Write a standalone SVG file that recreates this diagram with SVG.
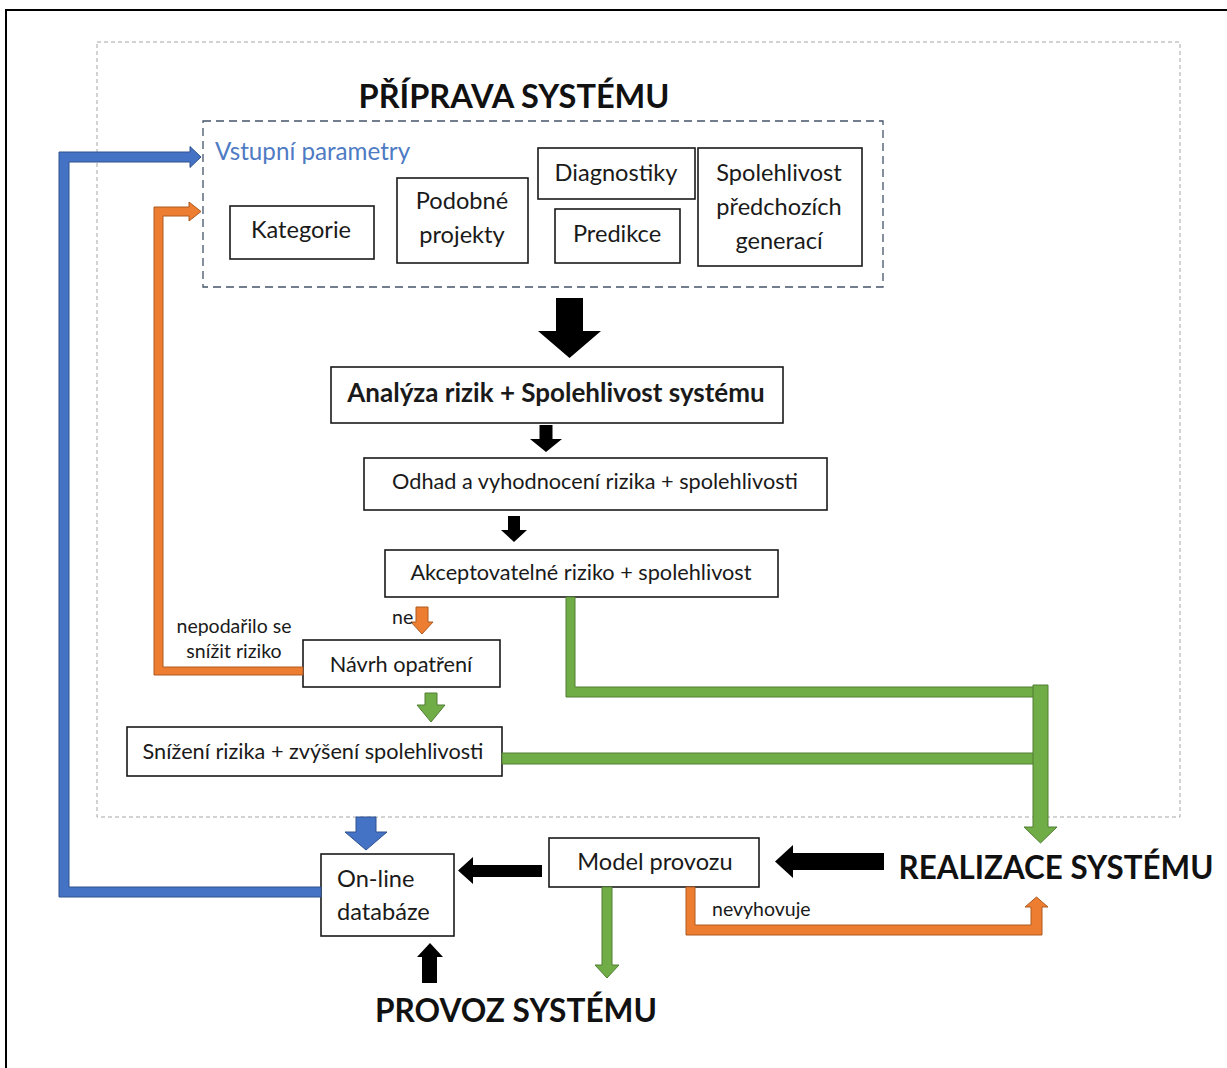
<svg xmlns="http://www.w3.org/2000/svg" width="1227" height="1068" viewBox="0 0 1227 1068">
  <style>
    .box { fill: #ffffff; stroke: #1a1a1a; stroke-width: 1.6; }
    .t { font-family: Lato, "Liberation Sans", sans-serif; fill: #1a1a1a; }
    .c { text-anchor: middle; }
    .s24 { font-size: 23.6px; }
    .s22 { font-size: 21.7px; }
    .s19 { font-size: 19.5px; }
    .head { font-family: Lato, "Liberation Sans", sans-serif; font-weight: bold; font-size: 32.5px; fill: #111111; text-anchor: middle; }
    .blue { fill: #4472c4; stroke: #2f528f; stroke-width: 1; }
    .green { fill: #70ad47; stroke: #507e32; stroke-width: 1; }
    .orange { fill: #ed7d31; stroke: #ae5a21; stroke-width: 1; }
    .black { fill: #000000; }
  </style>

  <rect width="1227" height="1068" fill="#ffffff"/>

  <!-- outer frame (right and bottom edges lie outside the canvas) -->
  <rect x="6" y="10" width="1240" height="1100" fill="none" stroke="#000000" stroke-width="2"/>

  <!-- system preparation area -->
  <rect id="preparation-area" x="97" y="42" width="1083" height="775" fill="none" stroke="#a6a6a6" stroke-width="1" stroke-dasharray="4 3"/>

  <g id="title-priprava">
    <text class="head" x="514" y="108" textLength="311" lengthAdjust="spacingAndGlyphs">PŘÍPRAVA SYSTÉMU</text>
  </g>

  <!-- input parameters group -->
  <g id="input-parameters">
    <rect x="203" y="121" width="680" height="166" fill="none" stroke="#44546a" stroke-width="1.3" stroke-dasharray="8 5"/>
    <text class="t" x="215" y="160" font-size="24.2px" style="fill:#4f7bc4">Vstupní parametry</text>
  </g>

  <g id="kategorie">
    <rect class="box" x="230" y="206" width="144" height="53"/>
    <text class="t s24 c" x="301" y="238">Kategorie</text>
  </g>

  <g id="podobne-projekty">
    <rect class="box" x="397" y="178" width="131" height="85"/>
    <text class="t s24 c" x="462" y="209">Podobné</text>
    <text class="t s24 c" x="462" y="243">projekty</text>
  </g>

  <g id="diagnostiky">
    <rect class="box" x="538" y="148" width="157" height="51"/>
    <text class="t s24 c" x="616" y="181">Diagnostiky</text>
  </g>

  <g id="predikce">
    <rect class="box" x="555" y="209" width="125" height="54"/>
    <text class="t s24 c" x="617" y="242">Predikce</text>
  </g>

  <g id="spolehlivost-generaci">
    <rect class="box" x="698" y="148" width="164" height="118"/>
    <text class="t s24 c" x="779" y="181">Spolehlivost</text>
    <text class="t s24 c" x="779" y="215">předchozích</text>
    <text class="t s24 c" x="779" y="249">generací</text>
  </g>

  <g id="analyza">
    <rect class="box" x="331" y="367" width="452" height="56"/>
    <text class="t c" x="556" y="402" font-size="26px" font-weight="bold">Analýza rizik + Spolehlivost systému</text>
  </g>

  <g id="odhad">
    <rect class="box" x="364" y="458" width="463" height="52"/>
    <text class="t s22 c" x="595" y="489">Odhad a vyhodnocení rizika + spolehlivosti</text>
  </g>

  <g id="akceptovatelne">
    <rect class="box" x="385" y="550" width="393" height="47"/>
    <text class="t s22 c" x="581" y="580">Akceptovatelné riziko + spolehlivost</text>
  </g>

  <g id="navrh-opatreni">
    <rect class="box" x="303" y="640" width="197" height="47"/>
    <text class="t s22 c" x="401" y="672">Návrh opatření</text>
  </g>

  <g id="snizeni-rizika">
    <rect class="box" x="127" y="727" width="375" height="49"/>
    <text class="t s22 c" x="313" y="759">Snížení rizika + zvýšení spolehlivosti</text>
  </g>

  <g id="online-databaze">
    <rect class="box" x="321" y="854" width="133" height="82"/>
    <text class="t s24" x="337" y="887">On-line</text>
    <text class="t s24" x="337" y="920">databáze</text>
  </g>

  <g id="model-provozu">
    <rect class="box" x="549" y="838" width="210" height="49"/>
    <text class="t s24 c" x="655" y="870">Model provozu</text>
  </g>

  <g id="title-realizace">
    <text class="head" x="1056" y="879" textLength="315" lengthAdjust="spacingAndGlyphs">REALIZACE SYSTÉMU</text>
  </g>

  <g id="title-provoz">
    <text class="head" x="516" y="1022" textLength="282" lengthAdjust="spacingAndGlyphs">PROVOZ SYSTÉMU</text>
  </g>

  <!-- connectors -->
  <g id="connectors">
    <!-- database feedback to input parameters -->
    <polygon class="blue" points="321,887 69,887 69,162 190,162 190,167.5 201,157 190,146.5 190,152 59,152 59,897 321,897"/>
    <!-- failed risk reduction back to input parameters -->
    <polygon class="orange" points="303,667 163,667 163,216 189,216 189,221 201,211.5 189,202 189,207 154,207 154,675 303,675"/>

    <!-- main flow -->
    <polygon class="black" points="556,298 583,298 583,331 601,331 569.5,358 538,331 556,331"/>
    <polygon class="black" points="539.5,425 552.5,425 552.5,439 562,439 546,452 530,439 539.5,439"/>
    <polygon class="black" points="508,516 520,516 520,530 527,530 514,542 501,530 508,530"/>

    <!-- "ne" branch -->
    <polygon class="orange" points="416,607 428,607 428,622 433,622 422,634 411,622 416,622"/>
    <text class="t s19" x="392" y="624">ne</text>
    <text class="t s19 c" x="234" y="633">nepodařilo se</text>
    <text class="t s19 c" x="234" y="658">snížit riziko</text>

    <!-- measures to risk reduction -->
    <polygon class="green" points="425,693 437,693 437,705 445,705 431,722 417,705 425,705"/>

    <!-- accepted / reduced risk to realization -->
    <polygon class="green" points="566,597 575,597 575,687 1034,687 1034,697 566,697"/>
    <rect class="green" x="502" y="753" width="532" height="11"/>
    <polygon class="green" points="1033,685 1048,685 1048,827 1057,827 1040.5,843 1024,827 1033,827"/>

    <!-- realization to operation model -->
    <polygon class="black" points="884,853 884,870 793,870 793,878 775,861.5 793,845 793,853"/>
    <!-- operation model to database -->
    <polygon class="black" points="542,865 542,877 473,877 473,884 458,870.5 473,857 473,865"/>
    <!-- preparation to database -->
    <polygon class="blue" points="356,817 376,817 376,832 387,832 366,850 345,832 356,832"/>
    <!-- operation to database -->
    <polygon class="black" points="422,983 437,983 437,957 443,957 430,943 417,957 422,957"/>
    <!-- operation model to operation -->
    <polygon class="green" points="602,887 612,887 612,965 619,965 607,978 595,965 602,965"/>
    <!-- operation model does not comply: back to realization -->
    <polygon class="orange" points="686,887 695,887 695,925 1031,925 1031,907 1025,907 1036.5,897 1048,907 1042,907 1042,935 686,935"/>
    <text class="t s19" x="712" y="916">nevyhovuje</text>
  </g>
</svg>
